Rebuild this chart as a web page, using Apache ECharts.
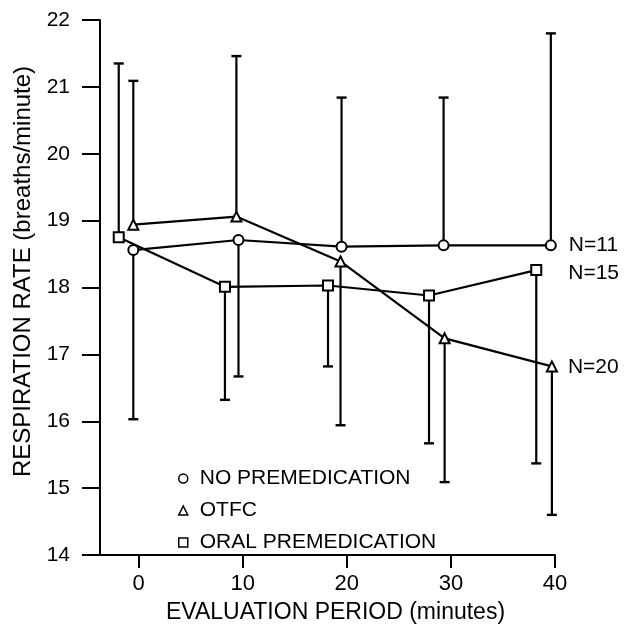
<!DOCTYPE html>
<html><head><meta charset="utf-8">
<script src="https://cdn.jsdelivr.net/npm/echarts@6/dist/echarts.min.js"></script>
<style>html,body{margin:0;padding:0;background:#fff}#c{width:625px;height:624px}</style>
</head><body><div id="c"></div>
<script>
// ---- data ----
const xTicks = [0, 10, 20, 30, 40];
const seriesNames = ['NO PREMEDICATION', 'OTFC', 'ORAL PREMEDICATION'];
const nLabels = ['N=11', 'N=20', 'N=15'];
const noPremedX = [-0.5, 9.6, 19.5, 29.3, 39.6];
const noPremedY = [18.56, 18.71, 18.61, 18.63, 18.63];
const noPremedErr = [16.03, 16.67, 20.84, 20.84, 21.80];
const otfcX = [-0.5, 9.4, 19.4, 29.4, 39.7];
const otfcY = [18.94, 19.06, 18.39, 17.24, 16.82];
const otfcErr = [21.09, 21.46, 15.94, 15.09, 14.60];
const oralX = [-1.9, 8.3, 18.2, 27.9, 38.2];
const oralY = [18.75, 18.01, 18.03, 17.88, 18.26];
const oralErr = [21.35, 16.32, 16.82, 15.67, 15.37];

const FONT = 'Liberation Sans';
const chart = echarts.init(document.getElementById('c'), null, {renderer: 'canvas'});

function pts(xs, ys) { return xs.map((x, i) => [x, ys[i]]); }
function errs(xs, ys, es) { return xs.map((x, i) => [x, ys[i], es[i]]); }

function renderErr(params, api) {
  const x = api.value(0), m = api.value(1), e = api.value(2);
  const p1 = api.coord([x, m]);
  const p2 = api.coord([x, e]);
  const half = 5;
  return {
    type: 'group',
    children: [
      {type: 'line', shape: {x1: p1[0], y1: p1[1], x2: p2[0], y2: p2[1]}, style: {stroke: '#000', lineWidth: 2.2}},
      {type: 'line', shape: {x1: p2[0] - half, y1: p2[1], x2: p2[0] + half, y2: p2[1]}, style: {stroke: '#000', lineWidth: 2.4}}
    ]
  };
}

function lineSeries(name, data, symbol, nLabel, labelDist, labelOffY) {
  const d = data.map((p, i) => {
    if (i === data.length - 1) {
      return {value: p, label: {show: true, position: 'right', distance: labelDist, offset: [0, labelOffY],
        formatter: nLabel, fontFamily: FONT, fontSize: 21, color: '#000'}};
    }
    return p;
  });
  return {
    name: name, type: 'line', data: d, symbol: symbol, symbolSize: 10, z: 3,
    lineStyle: {color: '#000', width: 2.2},
    itemStyle: {color: '#fff', borderColor: '#000', borderWidth: 2},
    emphasis: {disabled: true}
  };
}

function errSeries(data) {
  return {type: 'custom', renderItem: renderErr, data: data, z: 1,
    encode: {x: 0, y: [1, 2]}, silent: true};
}

const option = {
  animation: false,
  backgroundColor: '#fff',
  grid: {left: 100, right: 70, top: 20, bottom: 69, containLabel: false, outerBoundsMode: 'none'},
  legend: {
    orient: 'vertical', left: 173, top: 463, itemWidth: 9, itemHeight: 9, itemGap: 11,
    data: [
      {name: seriesNames[0], icon: 'circle'},
      {name: seriesNames[1], icon: 'triangle'},
      {name: seriesNames[2], icon: 'rect'}
    ],
    itemStyle: {color: '#fff', borderColor: '#000', borderWidth: 1.5},
    textStyle: {fontFamily: FONT, fontSize: 21, color: '#000', lineHeight: 20, padding: [0, 0, 0, 7]},
    selectedMode: false
  },
  xAxis: {
    type: 'value', min: -3.7, max: 40,
    name: 'EVALUATION PERIOD (minutes)', nameLocation: 'middle', nameGap: 46,
    nameTextStyle: {fontFamily: FONT, fontSize: 23, color: '#000', padding: [0, 0, 0, 16]},
    axisLine: {show: true, onZero: false, lineStyle: {color: '#000', width: 2}},
    axisTick: {show: true, length: 13, lineStyle: {color: '#000', width: 2}, customValues: xTicks},
    axisLabel: {fontFamily: FONT, fontSize: 22, color: '#000', margin: 18, customValues: xTicks},
    splitLine: {show: false}
  },
  yAxis: {
    type: 'value', min: 14, max: 22, interval: 1,
    name: 'RESPIRATION RATE (breaths/minute)', nameLocation: 'middle', nameGap: 61, nameRotate: 90,
    nameTextStyle: {fontFamily: FONT, fontSize: 24, color: '#000', padding: [0, 0, 0, 32]},
    axisLine: {show: true, onZero: false, lineStyle: {color: '#000', width: 2}},
    axisTick: {show: true, length: 18, lineStyle: {color: '#000', width: 2}},
    axisLabel: {fontFamily: FONT, fontSize: 21, color: '#000', margin: 30},
    splitLine: {show: false}
  },
  series: [
    errSeries(errs(noPremedX, noPremedY, noPremedErr)),
    errSeries(errs(otfcX, otfcY, otfcErr)),
    errSeries(errs(oralX, oralY, oralErr)),
    lineSeries(seriesNames[0], pts(noPremedX, noPremedY), 'circle', nLabels[0], 12, 0),
    lineSeries(seriesNames[1], pts(otfcX, otfcY), 'triangle', nLabels[1], 10, 1),
    lineSeries(seriesNames[2], pts(oralX, oralY), 'rect', nLabels[2], 26, 3)
  ]
};
chart.setOption(option);
</script></body></html>
